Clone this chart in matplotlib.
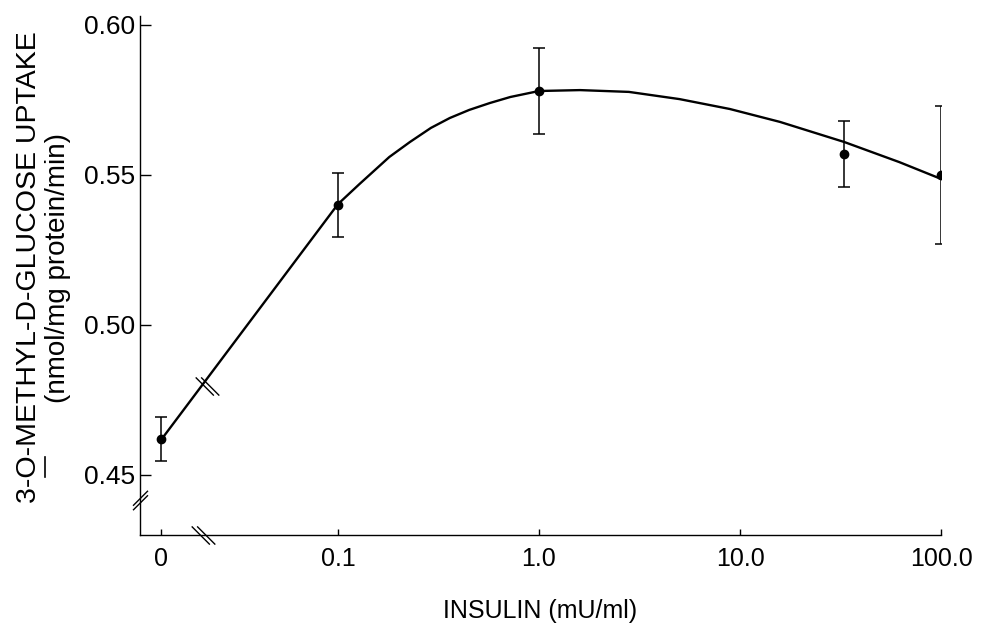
import numpy as np
import matplotlib
matplotlib.use("Agg")
import matplotlib.pyplot as plt
from matplotlib.path import Path
from matplotlib.lines import Line2D

# measured points (mean +/- SEM)
insulin = [0, 0.1, 1.0, 33, 100]
uptake = [0.462, 0.540, 0.578, 0.557, 0.550]
sem = [0.0073, 0.0108, 0.0144, 0.0111, 0.023]

# hand-drawn fitted curve
curve_insulin = [0, 0.1, 0.128, 0.18, 0.228, 0.29, 0.36, 0.45, 0.57, 0.72, 1.0,
                 1.6, 2.8, 5.0, 8.9, 15.8, 33, 62, 100]
curve_uptake = [0.4617, 0.5403, 0.5470, 0.556, 0.561, 0.5657, 0.569, 0.5717, 0.574,
                0.576, 0.578, 0.5783, 0.5777, 0.5753, 0.572, 0.5677, 0.561, 0.5543, 0.5487]

xtick_values = [0, 0.1, 1.0, 10.0, 100.0]
xtick_labels = ['0', '0.1', '1.0', '10.0', '100.0']
ytick_values = [0.45, 0.50, 0.55, 0.60]
ytick_labels = ['0.45', '0.50', '0.55', '0.60']

ZERO_POS = -1.88  # where the "0" dose sits on the broken log axis


def pos(x):
    """map insulin dose to x position (log10, zero placed left of the break)"""
    x = np.asarray(x, dtype=float)
    out = np.full(x.shape, ZERO_POS)
    nz = x > 0
    out[nz] = np.log10(x[nz])
    return out


plt.rcParams['font.family'] = ['Liberation Sans', 'DejaVu Sans']

fig = plt.figure(figsize=(9.83, 6.25), dpi=100)
ax = fig.add_axes([0.1424, 0.144, 0.8149, 0.8304])

ax.plot(pos(curve_insulin), curve_uptake, color='black', lw=1.7,
        solid_capstyle='round', solid_joinstyle='round')
ax.errorbar(pos(insulin), uptake, yerr=sem, fmt='o', color='black', ms=6,
            elinewidth=1.1, capsize=4, capthick=1.1, zorder=3)

ax.set_xlim(-1.985, 2.0)
ax.set_ylim(0.43, 0.603)

ax.set_xticks(pos(xtick_values))
ax.set_xticklabels(xtick_labels)
ax.set_yticks(ytick_values)
ax.set_yticklabels(ytick_labels)

ax.spines['top'].set_visible(False)
ax.spines['right'].set_visible(False)
ax.spines['left'].set_linewidth(1.0)
ax.spines['bottom'].set_linewidth(1.0)
ax.tick_params(axis='x', direction='in', length=4, width=1.0, pad=8.5, labelsize=18)
ax.tick_params(axis='y', direction='in', length=8, width=1.0, pad=3.5, labelsize=19)

# axis breaks drawn as double-slash markers (centred paths)
back = Path([(-1.3, 1), (0.7, -1), (-0.7, 1), (1.3, -1)],
            [Path.MOVETO, Path.LINETO, Path.MOVETO, Path.LINETO])
fwd = Path([(-1, -1.3), (1, 0.7), (-1, -0.7), (1, 1.3)],
           [Path.MOVETO, Path.LINETO, Path.MOVETO, Path.LINETO])
brk = dict(mec='black', mew=1.0, ls='none', clip_on=False, zorder=4)
ax.plot([-1.672], [0.43], marker=back, ms=17, **brk)
ax.plot([-1.985], [0.4417], marker=fwd, ms=14, **brk)
ax.plot([-1.652], [0.4797], marker=back, ms=17, **brk)

ax.set_xlabel('INSULIN (mU/ml)', fontsize=18, labelpad=20)

ylab = fig.text(0.030, 0.572, '3-O-METHYL-D-GLUCOSE UPTAKE', rotation=90,
                ha='center', va='center', fontsize=20.5)
fig.text(0.059, 0.572, '(nmol/mg protein/min)', rotation=90,
         ha='center', va='center', fontsize=20)

# underline the "O" of 3-O-methyl, measured from the rendered label
fig.canvas.draw()
renderer = fig.canvas.get_renderer()
bb = ylab.get_window_extent(renderer)
fp = ylab.get_fontproperties()
w_pre, _, _ = renderer.get_text_width_height_descent('3-', fp, ismath=False)
w_o, _, _ = renderer.get_text_width_height_descent('3-O', fp, ismath=False)
_, _, desc = renderer.get_text_width_height_descent(ylab.get_text(), fp, ismath=False)
ux = bb.x1 - desc + 3
W, H = fig.bbox.width, fig.bbox.height
fig.add_artist(Line2D([ux / W, ux / W], [(bb.y0 + w_pre + 1) / H, (bb.y0 + w_o - 1) / H],
                      transform=fig.transFigure, color='black', lw=1.2))

fig.savefig('out.png', dpi=100)
